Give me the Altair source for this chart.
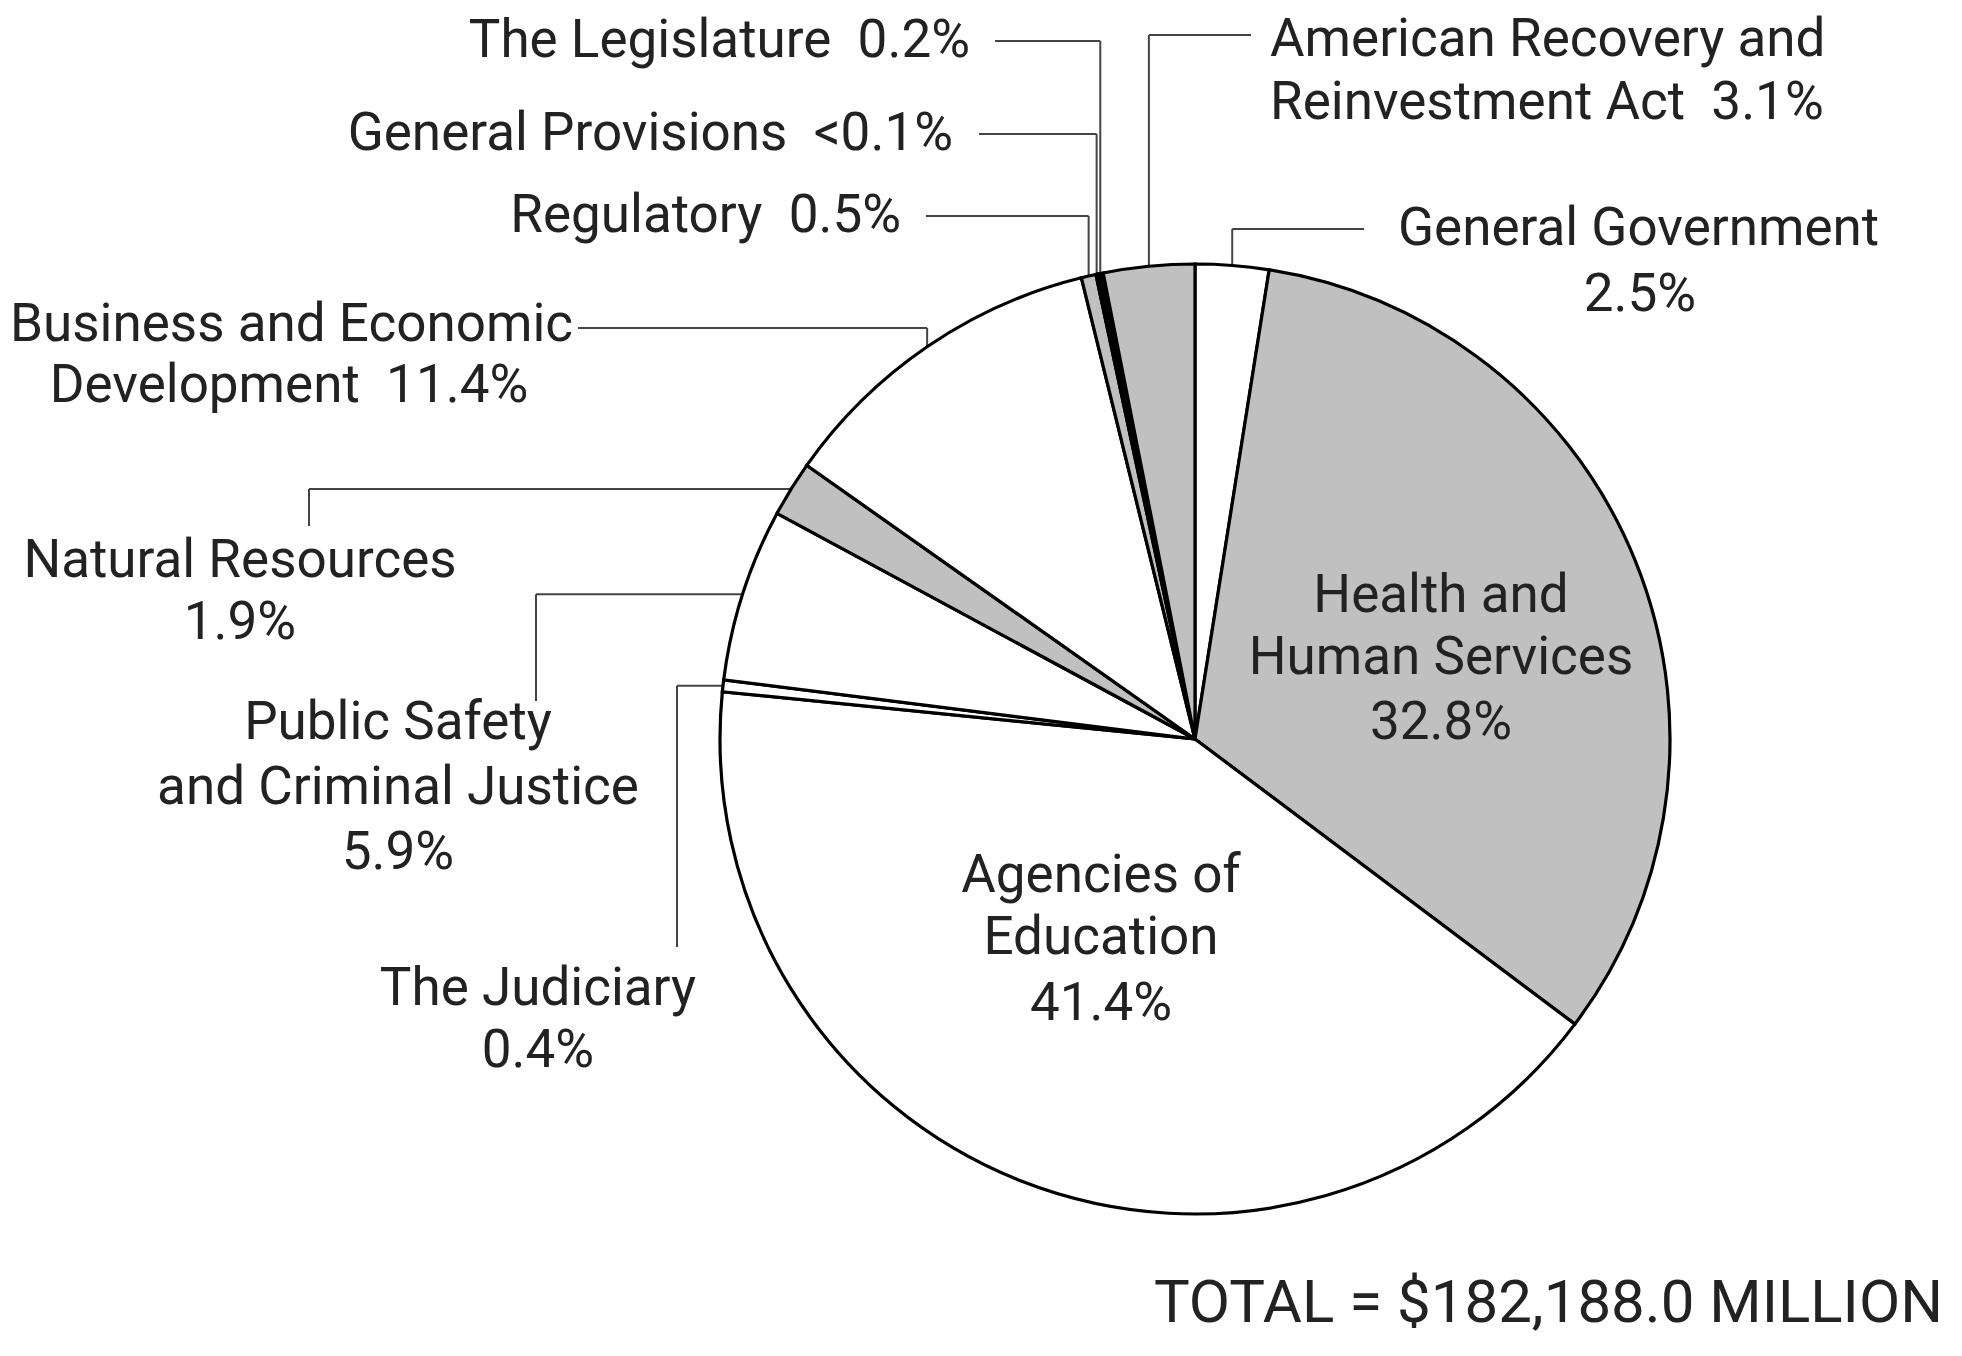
import math
import altair as alt
import pandas as pd

# ---------------- data ----------------
categories = [
    "General Government", "Health and Human Services", "Agencies of Education",
    "The Judiciary", "Public Safety and Criminal Justice", "Natural Resources",
    "Business and Economic Development", "Regulatory", "General Provisions",
    "The Legislature", "American Recovery and Reinvestment Act",
]
shares = [2.5, 32.8, 41.4, 0.4, 5.9, 1.9, 11.4, 0.5, 0.05, 0.2, 3.1]
shade = ["light", "dark", "light", "light", "light", "dark", "light", "dark", "light", "black", "dark"]
SP = "\u00a0\u00a0"
label_lines = [
    ["General Government", "2.5%"],
    ["Health and", "Human Services", "32.8%"],
    ["Agencies of", "Education", "41.4%"],
    ["The Judiciary", "0.4%"],
    ["Public Safety", "and Criminal Justice", "5.9%"],
    ["Natural Resources", "1.9%"],
    ["Business and Economic", "Development" + SP + "11.4%"],
    ["Regulatory" + SP + "0.5%"],
    ["General Provisions" + SP + "<0.1%"],
    ["The Legislature" + SP + "0.2%"],
    ["American Recovery and", "Reinvestment Act" + SP + "3.1%"],
]
total_text = "TOTAL = $182,188.0 MILLION"

# ---------------- layout (pixel space of 1962x1356 page) ----------------
W, H = 1940, 1336
CX, CY, R = 1195, 739, 475
FONT = "Roboto"
FS = 53
# label anchors per line: (x, y, align)
label_pos = [
    [(1398, 229, "left"), (1640, 295, "center")],
    [(1441, 596, "center"), (1441, 658, "center"), (1441, 723, "center")],
    [(1101, 876, "center"), (1101, 938, "center"), (1101, 1004, "center")],
    [(538, 989, "center"), (538, 1051, "center")],
    [(398, 723, "center"), (398, 788, "center"), (398, 853, "center")],
    [(240, 561, "center"), (240, 623, "center")],
    [(10, 325, "left"), (289, 386, "center")],
    [(901, 216, "right")],
    [(953, 134, "right")],
    [(970, 41, "right")],
    [(1270, 40, "left"), (1270, 103, "left")],
]
# leaders: ("up", label_y, end_x) or ("side", elbow_x, end_y)
leaders = {
    0: ("up", 229, 1364),
    7: ("up", 216, 926),
    8: ("up", 134, 979),
    9: ("up", 41, 995),
    10: ("up", 35, 1251),
    6: ("up", 328, 578),
    5: ("side", 309, 526),
    4: ("side", 536, 701),
    3: ("side", 677, 947),
}

pie_df = pd.DataFrame({
    "cat": categories, "share": shares, "shade": shade, "idx": list(range(len(categories)))
})

# rim points at slice mid-angle
tot = sum(shares)
cum = 0.0
rim = []
for s in shares:
    mid = (cum + s / 2) / tot
    a = 2 * math.pi * mid
    rim.append((CX + R * math.sin(a), CY - R * math.cos(a)))
    cum += s

segs = []
for i, spec in leaders.items():
    rx, ry = rim[i]
    if spec[0] == "up":
        _, ly, ex = spec
        segs.append({"x": rx, "y": ry, "x2": rx, "y2": ly})
        segs.append({"x": rx, "y": ly, "x2": ex, "y2": ly})
    else:
        _, elx, ey = spec
        segs.append({"x": rx, "y": ry, "x2": elx, "y2": ry})
        segs.append({"x": elx, "y": ry, "x2": elx, "y2": ey})
seg_df = pd.DataFrame(segs)

rows = []
for lines, pos in zip(label_lines, label_pos):
    for line, (px, py, al) in zip(lines, pos):
        rows.append({"x": px, "y": py, "t": line, "al": al})
txt_df = pd.DataFrame(rows)

xs = alt.Scale(domain=[8, 8 + W], nice=False, zero=False)
ys = alt.Scale(domain=[8, 8 + H], nice=False, zero=False, reverse=True)

pie = alt.Chart(pie_df).mark_arc(radius=R, stroke="black", strokeWidth=3.2).encode(
    theta=alt.Theta("share:Q", stack=True),
    order=alt.Order("idx:Q"),
    color=alt.Color("shade:N", scale=alt.Scale(domain=["light", "dark", "black"],
                                               range=["#ffffff", "#c0c0c0", "#000000"]), legend=None),
    x=alt.XDatum(CX, scale=xs, axis=None),
    y=alt.YDatum(CY, scale=ys, axis=None),
)

lead = alt.Chart(seg_df).mark_rule(color="#444444", strokeWidth=2).encode(
    x=alt.X("x:Q", scale=xs, axis=None), y=alt.Y("y:Q", scale=ys, axis=None),
    x2="x2:Q", y2="y2:Q",
)

def text_layer(al):
    return alt.Chart(txt_df[txt_df["al"] == al]).mark_text(
        align=al, baseline="middle", font=FONT, fontSize=FS, color="#222222"
    ).encode(
        x=alt.X("x:Q", scale=xs, axis=None), y=alt.Y("y:Q", scale=ys, axis=None), text="t:N"
    )

tot_df = pd.DataFrame({"x": [1943], "y": [1322], "t": [total_text]})
tot_layer = alt.Chart(tot_df).mark_text(
    align="right", baseline="alphabetic", font=FONT, fontSize=60, color="#222222"
).encode(x=alt.X("x:Q", scale=xs, axis=None), y=alt.Y("y:Q", scale=ys, axis=None), text="t:N")

chart = alt.layer(lead, pie, text_layer("left"), text_layer("center"), text_layer("right"), tot_layer).properties(
    width=W, height=H, autosize=alt.AutoSizeParams(type="none"), padding=0, background="white"
).configure_view(stroke=None)

chart.save("out.html", embed_options={"renderer": "svg", "actions": False})
